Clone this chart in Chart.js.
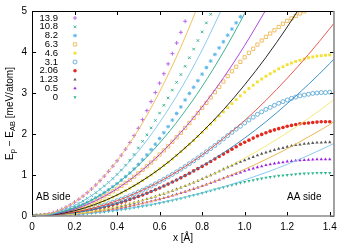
<!DOCTYPE html>
<html>
<head>
<meta charset="utf-8">
<script src="https://cdn.jsdelivr.net/npm/chart.js@4/dist/chart.umd.min.js"></script>
<style>
  html, body { margin: 0; padding: 0; background: #fff; }
  canvas { display: block; }
</style>
</head>
<body>
<canvas id="stackChart" width="350" height="245"></canvas>
<script>
// Подписи серий (сверху вниз, как в легенде)
const seriesLabels = ['13.9', '10.8', '8.2', '6.3', '4.6', '3.1', '2.06', '1.23', '0.5', '0'];

// Сдвиг x [Å] для точек
const ptX = [0, 0.02, 0.04, 0.06, 0.08, 0.1, 0.12, 0.14, 0.16, 0.18, 0.2, 0.22, 0.24, 0.26, 0.28, 0.3,
  0.32, 0.34, 0.36, 0.38, 0.4, 0.42, 0.44, 0.46, 0.48, 0.5, 0.52, 0.54, 0.56, 0.58, 0.6, 0.62, 0.64,
  0.66, 0.68, 0.7, 0.72, 0.74, 0.76, 0.78, 0.8, 0.82, 0.84, 0.86, 0.88, 0.9, 0.92, 0.94, 0.96, 0.98,
  1, 1.02, 1.04, 1.06, 1.08, 1.1, 1.12, 1.14, 1.16, 1.18, 1.2, 1.22, 1.24, 1.26, 1.28, 1.3, 1.32,
  1.34, 1.36, 1.38, 1.4];

// Рассчитанные точки E_p - E_AB [meV/atom]
const pts139 = [0, 0.003, 0.013, 0.03, 0.054, 0.084, 0.121, 0.165, 0.215, 0.272, 0.336, 0.407, 0.484,
  0.569, 0.659, 0.757, 0.861, 0.972, 1.09, 1.215, 1.346, 1.484, 1.63, 1.79, 1.96, 2.14, 2.35, 2.57,
  2.79, 3.01, 3.24, 3.47, 3.71, 3.96, 4.22, 4.48, 4.75, 5.02, 5.3];
const pts108 = [0, 0.003, 0.01, 0.023, 0.04, 0.063, 0.091, 0.124, 0.162, 0.205, 0.253, 0.306, 0.365,
  0.428, 0.497, 0.57, 0.648, 0.732, 0.82, 0.915, 1.015, 1.12, 1.24, 1.36, 1.5, 1.66, 1.82, 1.98, 2.15,
  2.33, 2.51, 2.7, 2.88, 3.07, 3.26, 3.45, 3.65, 3.86, 4.07, 4.28, 4.49, 4.71, 4.92, 5.14, 5.36];
const pts82 = [0, 0.002, 0.008, 0.018, 0.032, 0.049, 0.071, 0.097, 0.126, 0.16, 0.198, 0.239, 0.285,
  0.334, 0.387, 0.445, 0.506, 0.571, 0.64, 0.713, 0.79, 0.875, 0.96, 1.05, 1.15, 1.26, 1.37, 1.49,
  1.62, 1.75, 1.89, 2.03, 2.18, 2.34, 2.5, 2.66, 2.83, 2.99, 3.14, 3.3, 3.46, 3.62, 3.78, 3.94, 4.1,
  4.25, 4.41, 4.56, 4.71, 4.86, 5.01, 5.16, 5.31];
const pts63 = [0, 0.002, 0.007, 0.015, 0.027, 0.042, 0.06, 0.082, 0.106, 0.135, 0.166, 0.201, 0.24,
  0.281, 0.326, 0.374, 0.426, 0.481, 0.539, 0.601, 0.666, 0.734, 0.805, 0.88, 0.958, 1.04, 1.125,
  1.213, 1.305, 1.4, 1.5, 1.6, 1.7, 1.81, 1.92, 2.03, 2.15, 2.27, 2.39, 2.51, 2.64, 2.76, 2.89, 3.02,
  3.15, 3.28, 3.41, 3.53, 3.64, 3.76, 3.87, 3.98, 4.08, 4.18, 4.28, 4.37, 4.45, 4.53, 4.61, 4.69,
  4.76, 4.82, 4.88, 4.94, 4.99, 5.03, 5.07, 5.1, 5.13, 5.14, 5.15];
const pts46 = [0, 0.001, 0.005, 0.012, 0.02, 0.032, 0.046, 0.063, 0.082, 0.104, 0.128, 0.155, 0.184,
  0.216, 0.251, 0.288, 0.328, 0.37, 0.415, 0.462, 0.512, 0.564, 0.62, 0.677, 0.737, 0.8, 0.865, 0.933,
  1.0, 1.075, 1.15, 1.23, 1.31, 1.39, 1.48, 1.57, 1.66, 1.75, 1.84, 1.94, 2.04, 2.14, 2.24, 2.34, 2.44,
  2.54, 2.64, 2.74, 2.84, 2.93, 3.02, 3.11, 3.19, 3.27, 3.34, 3.41, 3.47, 3.53, 3.59, 3.64, 3.69,
  3.73, 3.77, 3.8, 3.83, 3.86, 3.88, 3.9, 3.91, 3.92, 3.93];
const pts31 = [0, 0.001, 0.004, 0.008, 0.015, 0.023, 0.034, 0.046, 0.06, 0.075, 0.093, 0.113, 0.134,
  0.158, 0.183, 0.21, 0.239, 0.269, 0.302, 0.336, 0.373, 0.411, 0.451, 0.493, 0.537, 0.583, 0.63,
  0.679, 0.731, 0.784, 0.839, 0.896, 0.954, 1.015, 1.077, 1.142, 1.208, 1.276, 1.346, 1.418, 1.491,
  1.567, 1.644, 1.72, 1.8, 1.88, 1.96, 2.04, 2.12, 2.19, 2.27, 2.34, 2.41, 2.48, 2.54, 2.6, 2.65,
  2.7, 2.75, 2.79, 2.83, 2.87, 2.9, 2.93, 2.95, 2.97, 2.99, 3.0, 3.01, 3.01, 3.02];
const pts206 = [0, 0.001, 0.003, 0.007, 0.012, 0.019, 0.027, 0.037, 0.049, 0.062, 0.076, 0.092, 0.109,
  0.128, 0.149, 0.171, 0.195, 0.22, 0.246, 0.274, 0.304, 0.335, 0.368, 0.402, 0.438, 0.475, 0.514,
  0.554, 0.596, 0.639, 0.684, 0.73, 0.778, 0.828, 0.879, 0.93, 0.985, 1.04, 1.1, 1.155, 1.21, 1.27,
  1.33, 1.39, 1.45, 1.51, 1.57, 1.63, 1.69, 1.75, 1.8, 1.85, 1.9, 1.95, 1.99, 2.03, 2.07, 2.1, 2.13,
  2.16, 2.19, 2.21, 2.23, 2.25, 2.26, 2.27, 2.28, 2.29, 2.3, 2.3, 2.3];
const pts123 = [0, 0.001, 0.002, 0.005, 0.009, 0.014, 0.02, 0.028, 0.036, 0.046, 0.056, 0.068, 0.081,
  0.095, 0.111, 0.127, 0.144, 0.163, 0.183, 0.204, 0.226, 0.249, 0.273, 0.298, 0.325, 0.353, 0.381,
  0.411, 0.442, 0.474, 0.508, 0.542, 0.578, 0.614, 0.652, 0.691, 0.731, 0.772, 0.814, 0.858, 0.902,
  0.948, 0.995, 1.04, 1.09, 1.14, 1.19, 1.23, 1.28, 1.32, 1.36, 1.4, 1.44, 1.48, 1.52, 1.55, 1.58,
  1.61, 1.64, 1.66, 1.69, 1.71, 1.73, 1.74, 1.76, 1.77, 1.78, 1.79, 1.79, 1.8, 1.8];
const pts05 = [0, 0, 0.002, 0.004, 0.007, 0.011, 0.016, 0.022, 0.029, 0.037, 0.046, 0.055, 0.066,
  0.077, 0.089, 0.103, 0.117, 0.132, 0.148, 0.165, 0.182, 0.201, 0.221, 0.241, 0.263, 0.285, 0.308,
  0.332, 0.357, 0.384, 0.41, 0.438, 0.467, 0.497, 0.527, 0.559, 0.591, 0.624, 0.658, 0.694, 0.73,
  0.766, 0.804, 0.843, 0.882, 0.92, 0.96, 0.99, 1.03, 1.06, 1.1, 1.13, 1.16, 1.19, 1.21, 1.24, 1.26,
  1.28, 1.3, 1.31, 1.33, 1.34, 1.35, 1.36, 1.365, 1.37, 1.375, 1.38, 1.38, 1.38, 1.38];
const pts0 = [0, 0, 0.001, 0.003, 0.006, 0.009, 0.013, 0.017, 0.022, 0.028, 0.035, 0.042, 0.051,
  0.059, 0.069, 0.079, 0.09, 0.101, 0.114, 0.127, 0.14, 0.155, 0.17, 0.186, 0.202, 0.22, 0.237,
  0.256, 0.275, 0.295, 0.316, 0.338, 0.36, 0.382, 0.406, 0.43, 0.455, 0.481, 0.507, 0.534, 0.56,
  0.59, 0.62, 0.645, 0.675, 0.7, 0.73, 0.755, 0.78, 0.81, 0.83, 0.855, 0.875, 0.895, 0.915, 0.935,
  0.95, 0.965, 0.98, 0.99, 1.0, 1.01, 1.02, 1.03, 1.035, 1.04, 1.045, 1.05, 1.05, 1.05, 1.05];

// Гармонические аппроксимации (линии)
const fitX = [0, 0.1, 0.2, 0.3, 0.4, 0.5, 0.6, 0.7, 0.8, 0.9, 1.0, 1.1, 1.2, 1.3, 1.4, 1.42];
const fit139 = [0, 0.084, 0.336, 0.757, 1.346, 2.1, 3.03, 4.12, 5.38];
const fit108 = [0, 0.063, 0.253, 0.57, 1.01, 1.58, 2.28, 3.1, 4.05, 5.13];
const fit82 = [0, 0.049, 0.198, 0.445, 0.79, 1.235, 1.78, 2.42, 3.16, 4.0, 4.94, 5.98];
const fit63 = [0, 0.042, 0.166, 0.374, 0.666, 1.04, 1.5, 2.04, 2.66, 3.37, 4.16, 5.03];
const fit46 = [0, 0.032, 0.128, 0.288, 0.512, 0.8, 1.15, 1.57, 2.05, 2.59, 3.2, 3.87, 4.61, 5.41];
const fit31 = [0, 0.023, 0.093, 0.21, 0.373, 0.583, 0.839, 1.14, 1.49, 1.89, 2.33, 2.82, 3.36, 3.94, 4.57, 4.7];
const fit206 = [0, 0.019, 0.076, 0.171, 0.304, 0.475, 0.684, 0.931, 1.22, 1.54, 1.9, 2.3, 2.74, 3.21, 3.72, 3.83];
const fit123 = [0, 0.014, 0.056, 0.127, 0.226, 0.353, 0.508, 0.691, 0.902, 1.14, 1.41, 1.71, 2.03, 2.38, 2.76, 2.84];
const fit05 = [0, 0.011, 0.046, 0.103, 0.182, 0.285, 0.41, 0.559, 0.73, 0.923, 1.14, 1.38, 1.64, 1.93, 2.23, 2.3];
const fit0 = [0, 0.009, 0.035, 0.079, 0.14, 0.22, 0.316, 0.43, 0.562, 0.711, 0.878, 1.06, 1.26, 1.48, 1.72, 1.77];

// Деления осей
const xTicks = [0, 0.2, 0.4, 0.6, 0.8, 1, 1.2, 1.4];
const yTicks = [0, 1, 2, 3, 4, 5];

const allPts = [pts139, pts108, pts82, pts63, pts46, pts31, pts206, pts123, pts05, pts0];
const allFits = [fit139, fit108, fit82, fit63, fit46, fit31, fit206, fit123, fit05, fit0];

// Стиль маркеров (как в gnuplot, мелкие)
const markers = [
  { style: 'cross',    color: '#b45ae6', fill: false, r: 2.0, bw: 0.9 },
  { style: 'crossRot', color: '#2aae8a', fill: false, r: 1.8, bw: 0.9 },
  { style: 'star',     color: '#60b8ea', fill: false, r: 1.9, bw: 1.0 },
  { style: 'rect',     color: '#eeb040', fill: false, r: 2.3, bw: 0.8 },
  { style: 'rect',     color: '#f2e033', fill: true,  r: 2.0, bw: 0 },
  { style: 'circle',   color: '#4a9fd2', fill: false, r: 2.0, bw: 0.8 },
  { style: 'circle',   color: '#e5281c', fill: true,  r: 1.8, bw: 0 },
  { style: 'triangle', color: '#5a5a5a', fill: true,  r: 1.9, bw: 0, rot: 0 },
  { style: 'triangle', color: '#9c22e0', fill: true,  r: 1.9, bw: 0, rot: 0 },
  { style: 'triangle', color: '#2db892', fill: true,  r: 1.9, bw: 0, rot: 180 }
];
const fitColors = ['#efb84a', '#7cc4ee', '#2aa986', '#a534dc', '#111111', '#e8483c',
  '#2a86c0', '#f2e66a', '#eab040', '#7cc4ee'];

document.addEventListener('DOMContentLoaded', function() {
  const ctx = document.getElementById('stackChart').getContext('2d');
  const FONT = '"Liberation Sans", Arial, sans-serif';

  const datasets = [];
  allFits.forEach(function(f, i) {
    datasets.push({
      label: 'fit ' + seriesLabels[i],
      data: f.map(function(v, j) { return { x: fitX[j], y: v }; }),
      showLine: true,
      borderColor: fitColors[i],
      borderWidth: 0.9,
      pointRadius: 0,
      cubicInterpolationMode: 'monotone',
      fill: false
    });
  });
  allPts.forEach(function(p, i) {
    const m = markers[i];
    datasets.push({
      label: seriesLabels[i],
      data: p.map(function(v, j) { return { x: ptX[j], y: v }; }),
      showLine: false,
      pointStyle: m.style,
      pointRadius: m.r,
      pointBorderWidth: m.bw,
      pointRotation: m.rot || 0,
      borderColor: m.color,
      backgroundColor: m.fill ? m.color : 'rgba(0,0,0,0)'
    });
  });

  // Рамка, внутренние деления, легенда и подписи
  const decor = {
    id: 'decor',
    afterDraw: function(chart) {
      const c = chart.ctx;
      const a = chart.chartArea;
      const sx = chart.scales.x, sy = chart.scales.y;
      c.save();
      // деления внутрь
      c.strokeStyle = '#000';
      c.lineWidth = 1;
      c.beginPath();
      xTicks.forEach(function(t) {
        const px = Math.round(sx.getPixelForValue(t)) + 0.5;
        c.moveTo(px, a.bottom); c.lineTo(px, a.bottom - 4);
        c.moveTo(px, a.top); c.lineTo(px, a.top + 4);
      });
      yTicks.forEach(function(t) {
        const py = Math.round(sy.getPixelForValue(t)) + 0.5;
        c.moveTo(a.left, py); c.lineTo(a.left + 4, py);
        c.moveTo(a.right, py); c.lineTo(a.right - 4, py);
      });
      c.stroke();
      // рамка
      c.beginPath();
      c.moveTo(a.left + 0.5, a.bottom); c.lineTo(a.left + 0.5, a.top + 0.5); c.lineTo(a.right, a.top + 0.5);
      c.stroke();
      c.strokeStyle = '#8a8a8a';
      c.lineWidth = 1.6;
      c.beginPath();
      c.moveTo(a.left, a.bottom); c.lineTo(a.right, a.bottom); c.lineTo(a.right, a.top);
      c.stroke();

      // легенда
      c.font = '9.5px ' + FONT;
      c.textAlign = 'right';
      c.textBaseline = 'middle';
      seriesLabels.forEach(function(lbl, i) {
        const y = 18 + i * 8.8;
        c.fillStyle = '#000';
        c.fillText(lbl, 58, y);
        const m = markers[i];
        c.strokeStyle = m.color;
        c.fillStyle = m.fill ? m.color : 'rgba(0,0,0,0)';
        c.lineWidth = m.bw;
        Chart.helpers.drawPoint(c, { pointStyle: m.style, radius: m.r, rotation: m.rot || 0, borderWidth: m.bw }, 75, y);
      });

      // подписи сторон
      c.fillStyle = '#000';
      c.font = '10px ' + FONT;
      c.textAlign = 'left';
      c.fillText('AB side', 36, 197);
      c.fillText('AA side', 287, 197);

      // подпись оси x
      c.textAlign = 'center';
      c.fillText('x [Å]', (a.left + a.right) / 2, 238);

      // подпись оси y с индексами
      const parts = [['E', 0], ['p', 1], [' \u2212 E', 0], ['AB', 1], [' [meV/atom]', 0]];
      const big = '10px ' + FONT, small = '7.5px ' + FONT;
      let total = 0;
      parts.forEach(function(p) { c.font = p[1] ? small : big; total += c.measureText(p[0]).width; });
      c.translate(10, (a.top + a.bottom) / 2);
      c.rotate(-Math.PI / 2);
      c.textAlign = 'left';
      let x = -total / 2;
      parts.forEach(function(p) {
        c.font = p[1] ? small : big;
        c.fillText(p[0], x, p[1] ? 2.5 : 0);
        x += c.measureText(p[0]).width;
      });
      c.restore();
    }
  };

  new Chart(ctx, {
    type: 'scatter',
    data: { datasets: datasets },
    options: {
      responsive: false,
      animation: false,
      devicePixelRatio: 1,
      layout: { padding: { left: 0, right: 16, top: 11, bottom: 0 } },
      plugins: { legend: { display: false }, tooltip: { enabled: false } },
      scales: {
        x: {
          type: 'linear',
          min: 0,
          max: 1.42,
          afterFit: function(s) { s.height = 29; },
          afterBuildTicks: function(s) { s.ticks = xTicks.map(function(v) { return { value: v }; }); },
          grid: { display: false, drawTicks: false },
          border: { display: false },
          ticks: { padding: 5, color: '#000', font: { family: FONT, size: 10 }, maxRotation: 0 }
        },
        y: {
          min: 0,
          max: 5,
          afterFit: function(s) { s.width = 32; },
          afterBuildTicks: function(s) { s.ticks = yTicks.map(function(v) { return { value: v }; }); },
          grid: { display: false, drawTicks: false },
          border: { display: false },
          ticks: { padding: 5, color: '#000', font: { family: FONT, size: 10 } }
        }
      }
    },
    plugins: [decor]
  });
});
</script>
</body>
</html>
